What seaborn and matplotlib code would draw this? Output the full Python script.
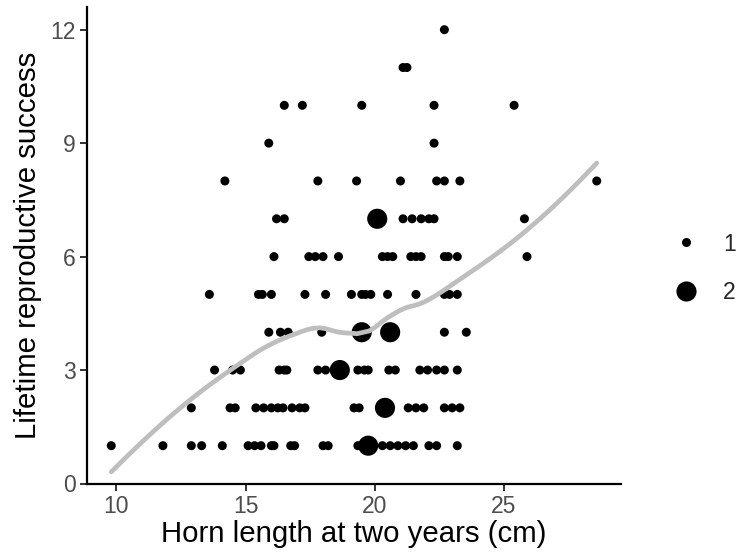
import numpy as np
import pandas as pd
import matplotlib
matplotlib.use("Agg")
import matplotlib.pyplot as plt
import seaborn as sns

# Horn length (cm) of single individuals at each lifetime reproductive success level
lrs1 = [9.8, 11.8, 12.9, 13.3, 14.1, 15.1, 15.35, 15.6, 16.0, 16.1, 16.75, 16.9, 18.0, 18.2,
        19.35, 20.3, 20.6, 20.9, 21.2, 21.5, 22.1, 22.4, 23.2]
lrs2 = [12.9, 14.4, 14.6, 15.4, 15.7, 16.0, 16.25, 16.45, 16.8, 17.1, 17.3, 19.2, 19.4,
        21.3, 21.6, 21.9, 22.7, 23.0, 23.3]
lrs3 = [13.8, 14.5, 14.8, 16.3, 16.5, 16.6, 17.8, 18.1, 19.35, 19.6, 19.75, 20.55, 20.8,
        21.75, 22.05, 22.4, 22.7, 23.2]
lrs4 = [15.9, 16.35, 16.65, 17.95, 22.7, 23.55]
lrs5 = [13.6, 15.5, 15.65, 16.0, 17.3, 18.1, 19.1, 19.5, 19.65, 19.85, 20.5, 21.6, 22.7,
        22.9, 23.2]
lrs6 = [16.1, 17.45, 17.7, 18.0, 18.6, 20.3, 20.5, 20.7, 21.4, 21.6, 21.8, 22.7, 22.85,
        23.2, 25.9]
lrs7 = [16.2, 16.5, 21.1, 21.45, 21.8, 22.1, 22.3, 25.8]
lrs8 = [14.2, 17.8, 19.3, 21.0, 22.4, 22.7, 23.3, 28.6]
lrs9 = [15.9, 22.3]
lrs10 = [16.5, 17.2, 19.5, 22.3, 25.4]
lrs11 = [21.1, 21.25]
lrs12 = [22.7]

# Points where two individuals coincide (count = 2)
double_horn = [19.75, 20.4, 18.65, 19.5, 20.6, 20.1]
double_lrs = [1, 2, 3, 4, 4, 7]

rows = []
singles = [lrs1, lrs2, lrs3, lrs4, lrs5, lrs6, lrs7, lrs8, lrs9, lrs10, lrs11, lrs12]
for k, xs in enumerate(singles, start=1):
    for xv in xs:
        rows.append((xv, k, "1"))
for xv, yv in zip(double_horn, double_lrs):
    rows.append((xv, yv, "2"))
df = pd.DataFrame(rows, columns=["horn", "lrs", "n"])

# Expanded raw observations for the loess fit
xr = np.concatenate([df["horn"].values, np.array(double_horn)])
yr = np.concatenate([df["lrs"].values.astype(float), np.array(double_lrs, dtype=float)])


def loess(x, y, xg, span=0.75):
    n = len(x)
    q = int(np.floor(span * n))
    out = []
    for x0 in xg:
        d = np.abs(x - x0)
        h = np.sort(d)[q - 1]
        u = np.clip(d / h, 0, 1)
        w = (1 - u ** 3) ** 3
        X = np.column_stack([np.ones(n), x - x0, (x - x0) ** 2])
        W = np.sqrt(w)
        beta, *_ = np.linalg.lstsq(X * W[:, None], y * W, rcond=None)
        out.append(beta[0])
    return np.array(out)


xg = np.linspace(xr.min(), xr.max(), 80)
yg = loess(xr, yr, xg)

sns.set_theme(style="white")
plt.rcParams["font.family"] = ["Liberation Sans", "DejaVu Sans"]

fig = plt.figure(figsize=(7.4, 5.58), dpi=100)
ax = fig.add_axes([87 / 740, (558 - 483.5) / 558, (621 - 87) / 740, (483.5 - 7) / 558])

sns.scatterplot(data=df, x="horn", y="lrs", size="n", sizes={"1": 42, "2": 210},
                size_order=["1", "2"], color="black", edgecolor="black", linewidth=0,
                ax=ax, zorder=3)
sns.lineplot(x=xg, y=yg, color="#BEBEBE", linewidth=3.4, ax=ax, zorder=4)

ax.set_xlim(8.86, 29.54)
ax.set_ylim(0, 12.6)
ax.set_xticks([10, 15, 20, 25])
ax.set_yticks([0, 3, 6, 9, 12])
ax.set_xlabel("Horn length at two years (cm)", fontsize=21.2, color="black", labelpad=2)
ax.set_ylabel("Lifetime reproductive success", fontsize=21.2, color="black", labelpad=6)
ax.tick_params(axis="both", labelsize=16.5, labelcolor="#4D4D4D", length=5, width=1.4,
               color="#333333", pad=3, direction="out", bottom=True, left=True)
for side in ["top", "right"]:
    ax.spines[side].set_visible(False)
for side in ["left", "bottom"]:
    ax.spines[side].set_color("black")
    ax.spines[side].set_linewidth(1.6)
ax.grid(False)

handles, labels = ax.get_legend_handles_labels()
pairs = [(h, l) for h, l in zip(handles, labels) if l in ("1", "2")]
ax.legend([p[0] for p in pairs], [p[1] for p in pairs], loc="center left",
          bbox_to_anchor=(1.105, 0.452), frameon=False, fontsize=16.5,
          labelspacing=1.1, handlelength=0.8, handletextpad=1.2, borderpad=0,
          borderaxespad=0)

fig.savefig("out.png", dpi=100)
